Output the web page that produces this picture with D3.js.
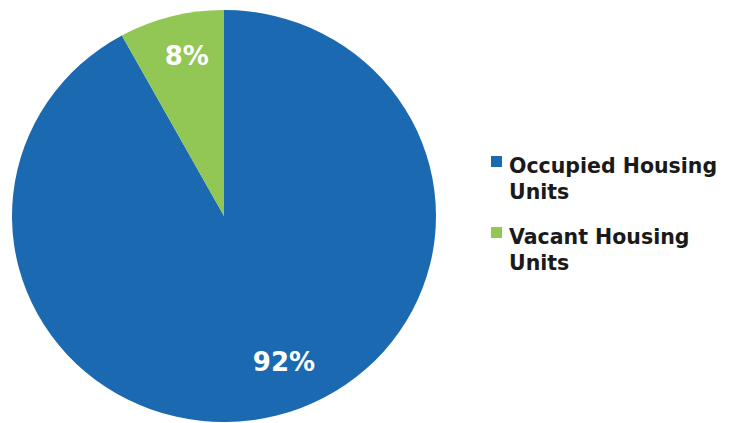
<!DOCTYPE html>
<html lang="en">
<head>
   <meta charset="UTF-8">
   <title>Housing Units</title>
   <style>
      body { margin: 0; background: #fff; }
      text { font-family: "DejaVu Sans", sans-serif; font-weight: bold; }
      text.pct { fill: #fff; font-size: 26px; text-anchor: middle; }
      text.legend { fill: #1a1a1a; font-size: 20.5px; }
   </style>
   <script src="https://cdn.jsdelivr.net/npm/d3@7"></script>
</head>
<body>
   <svg width="735" height="423"></svg>
   <script>
      // data
      const categories = ['Occupied Housing Units', 'Vacant Housing Units']
      const values = [92, 8]
      const legendLines = [['Occupied Housing', 'Units'], ['Vacant Housing', 'Units']]
      const colors = ['#1a69b1', '#92c655']

      const svg = d3.select('svg')

      // pie is a touch squashed in the picture
      const cx = 224, cy = 216, rx = 212, ry = 206

      const pie = d3.pie().sort(null).value(d => d)
      const arcs = pie(values)
      const arc = d3.arc().innerRadius(0).outerRadius(rx)

      const pieG = svg.append('g')
         .attr('transform', `translate(${cx}, ${cy}) scale(1, ${ry / rx})`)

      pieG.selectAll('path')
         .data(arcs)
         .enter()
         .append('path')
            .attr('d', arc)
            .attr('fill', (d, i) => colors[i])

      // labels, placed roughly where excel put them
      const labelPos = [{ r: 0.76, shift: -0.13 }, { r: 0.8, shift: 0.03 }]
      svg.selectAll('text.pct')
         .data(arcs)
         .enter()
         .append('text')
            .attr('class', 'pct')
            .attr('x', (d, i) => {
               const a = (d.startAngle + d.endAngle) / 2 + labelPos[i].shift
               return cx + Math.sin(a) * rx * labelPos[i].r
            })
            .attr('y', (d, i) => {
               const a = (d.startAngle + d.endAngle) / 2 + labelPos[i].shift
               return cy - Math.cos(a) * ry * labelPos[i].r
            })
            .attr('dy', '0.36em')
            .text(d => d3.format('.0%')(d.data / d3.sum(values)))

      // legend
      const legend = svg.append('g')
         .attr('transform', 'translate(491, 156)')

      const item = legend.selectAll('g')
         .data(categories)
         .enter()
         .append('g')
            .attr('transform', (d, i) => `translate(0, ${i * 71})`)

      item.append('rect')
         .attr('width', 11)
         .attr('height', 11)
         .attr('fill', (d, i) => colors[i])

      item.append('text')
         .attr('class', 'legend')
         .attr('x', 18)
         .attr('y', 17)
         .selectAll('tspan')
         .data((d, i) => legendLines[i])
         .enter()
         .append('tspan')
            .attr('x', 18)
            .attr('dy', (d, j) => j ? 26 : 0)
            .text(d => d)
   </script>
</body>
</html>
